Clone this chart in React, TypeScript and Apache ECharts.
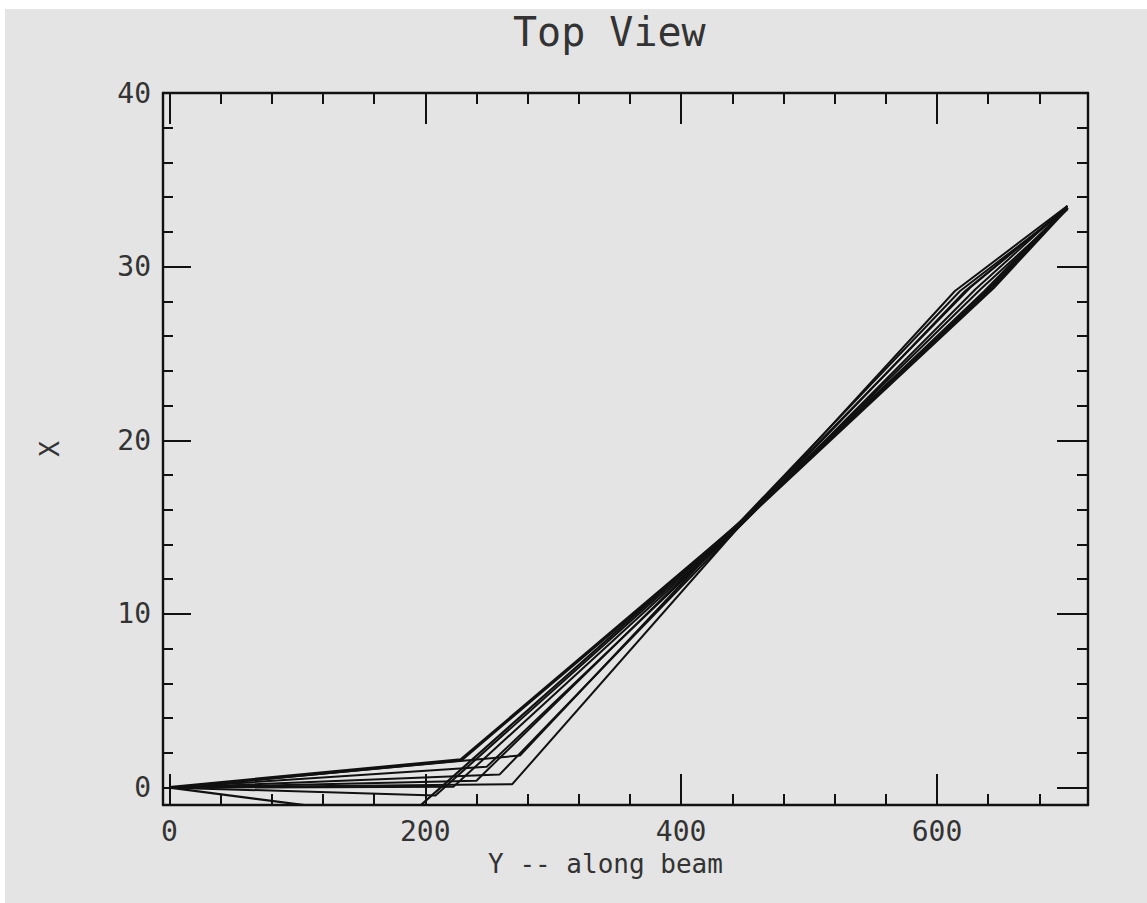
import React, { useEffect, useRef } from "react";
import * as echarts from "echarts";

// Tick values
const xMajorTicks = [0, 200, 400, 600];
const xMinorTicks = [40, 80, 120, 160, 240, 280, 320, 360, 440, 480, 520, 560, 640, 680];
const yMajorTicks = [0, 10, 20, 30, 40];
const yMinorTicks = [2, 4, 6, 8, 12, 14, 16, 18, 22, 24, 26, 28, 32, 34, 36, 38];

// Tracks: [Y along beam, X]
const track1 = [[0, 0], [228, 1.6], [452, 15.6], [644, 28.8], [702, 33.4]];
const track2 = [[0, 0], [274, 1.85], [451, 15.7], [618, 28.6], [701, 33.3]];
const track3 = [[0, 0], [248, 1.2], [452, 15.5], [630, 28.7], [702, 33.5]];
const track4 = [[0, 0], [258, 0.75], [453, 15.6], [622, 28.6], [702, 33.4]];
const track5 = [[0, 0], [240, 0.4], [452, 15.7], [626, 28.8], [701, 33.4]];
const track6 = [[0, 0], [268, 0.2], [452, 15.6], [614, 28.6], [702, 33.5]];
const track7 = [[0, 0], [222, 0.05], [451, 15.5], [634, 28.7], [702, 33.3]];
const track8 = [[0, 0], [208, -0.45], [452, 15.6], [637, 28.6], [701, 33.4]];
const track9 = [[0, 0], [185, -1.76], [452, 15.7], [640, 28.7], [702, 33.4]];

const tracks = [track1, track2, track3, track4, track5, track6, track7, track8, track9];
const trackWidths = [3.4, 2, 2, 2, 2, 2, 2, 2, 2.2];

const X_MIN = -5;
const X_MAX = 718;
const Y_MIN = -1;
const Y_MAX = 40;

const INK = "#111111";
const TEXT = "#333333";
const FONT = "DejaVu Sans Mono";

export default function App() {
  const ref = useRef<HTMLDivElement>(null);

  useEffect(() => {
    if (!ref.current) return;
    const chart = echarts.init(ref.current, null, { renderer: "svg" });
    const line = { color: INK, width: 2.4 };
    const tickStyle = { color: INK, width: 2 };
    const labelStyle = { fontFamily: FONT, fontSize: 28, color: TEXT };

    const mkX = (position: string, ticks: number[], len: number, showLine: boolean, labels: boolean, extra: any = {}) => ({
      type: "value",
      position,
      offset: 0,
      min: X_MIN,
      max: X_MAX,
      axisLine: { show: showLine, onZero: false, lineStyle: line },
      axisTick: { show: true, inside: true, length: len, customValues: ticks, lineStyle: tickStyle },
      axisLabel: labels
        ? { show: true, customValues: ticks, margin: 12, ...labelStyle }
        : { show: false },
      splitLine: { show: false },
      ...extra,
    });
    const mkY = (position: string, ticks: number[], len: number, showLine: boolean, labels: boolean, extra: any = {}) => ({
      type: "value",
      position,
      offset: 0,
      min: Y_MIN,
      max: Y_MAX,
      axisLine: { show: showLine, onZero: false, lineStyle: line },
      axisTick: { show: true, inside: true, length: len, customValues: ticks, lineStyle: tickStyle },
      axisLabel: labels
        ? { show: true, customValues: ticks, margin: 12, ...labelStyle }
        : { show: false },
      splitLine: { show: false },
      ...extra,
    });

    chart.setOption({
      animation: false,
      backgroundColor: "#e4e4e4",
      title: {
        text: "Top View",
        left: 508,
        top: 7,
        textStyle: { fontFamily: FONT, fontSize: 40, fontWeight: "normal", color: TEXT },
      },
      graphic: [
        { type: "rect", left: 0, top: 0, shape: { width: 1147, height: 9 }, style: { fill: "#ffffff" }, silent: true },
        { type: "rect", left: 0, top: 0, shape: { width: 5, height: 903 }, style: { fill: "#ffffff" }, silent: true },
      ],
      grid: {
        left: 163,
        right: 59,
        top: 93,
        bottom: 98,
        containLabel: false,
        outerBoundsMode: "none",
      },
      xAxis: [
        mkX("bottom", xMajorTicks, 31, true, true, {
          name: "Y -- along beam",
          nameLocation: "middle",
          nameGap: 46,
          nameTextStyle: { fontFamily: FONT, fontSize: 26, color: TEXT, padding: [0, 40, 0, 0] },
        }),
        mkX("bottom", xMinorTicks, 11, false, false),
        mkX("top", xMajorTicks, 31, true, false),
        mkX("top", xMinorTicks, 11, false, false),
      ],
      yAxis: [
        mkY("left", yMajorTicks, 28, true, true, {
          name: "X",
          nameLocation: "middle",
          nameGap: 100,
          nameRotate: 90,
          nameTextStyle: { fontFamily: FONT, fontSize: 26, color: TEXT },
        }),
        mkY("left", yMinorTicks, 10, false, false),
        mkY("right", yMajorTicks, 31, true, false),
        mkY("right", yMinorTicks, 11, false, false),
      ],
      series: tracks.map((t, i) => ({
        type: "line",
        xAxisIndex: 0,
        yAxisIndex: 0,
        data: t,
        showSymbol: false,
        symbol: "none",
        clip: true,
        lineStyle: { color: INK, width: trackWidths[i] },
        emphasis: { disabled: true },
      })),
    });
    return () => chart.dispose();
  }, []);

  return (
    <div
      ref={ref}
      style={{ position: "fixed", left: 0, top: 0, width: 1147, height: 903 }}
    />
  );
}
